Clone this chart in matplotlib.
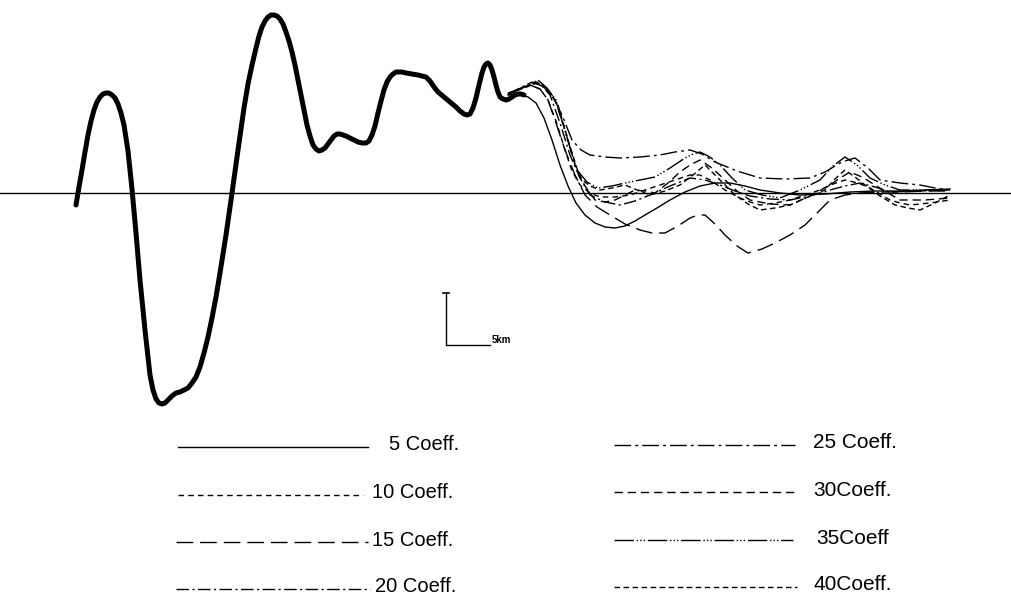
import matplotlib.pyplot as plt

# observed profile (distance along track, anomaly relative to the zero line)
obs_x = [76, 79, 82, 85, 88, 91, 94, 97, 100, 103, 106, 109, 112, 115, 118, 121, 124,
         128, 132, 136, 140, 145, 150, 153, 156, 159, 162, 165, 168, 172, 176, 180, 184,
         188, 192, 196, 200, 204, 208, 212, 216, 220, 226, 232, 238, 244, 248, 252, 256,
         259, 262, 265, 268, 271, 274, 277, 280, 283, 286, 289, 292, 295, 298, 301, 304,
         307, 310, 313, 316, 319, 322, 325, 328, 331, 334, 337, 340, 343, 346, 352, 358,
         362, 366, 369, 372, 375, 378, 381, 384, 387, 390, 393, 396, 399, 402, 406, 412,
         418, 422, 426, 430, 434, 438, 444, 450, 456, 460, 464, 467, 470, 473, 476, 479,
         482, 484, 486, 488, 490, 492, 494, 496, 498, 500, 503, 506, 509, 512, 515, 518,
         521, 524]
obs_y = [-12, 6, 23, 41, 58, 72, 83, 91, 96, 99, 100, 100, 98, 95, 89, 80, 68,
         42, 4, -40, -87, -137, -182, -197, -206, -210, -211, -210, -207, -203, -200, -199, -197,
         -195, -190, -184, -174, -160, -144, -125, -104, -80, -42, 0, 43, 85, 109, 128, 145,
         157, 166, 172, 176, 178, 178, 177, 174, 169, 161, 152, 141, 128, 113, 98, 83,
         68, 57, 48, 44, 42, 43, 45, 49, 53, 57, 59, 59, 58, 57, 54, 51,
         50, 50, 52, 58, 67, 80, 92, 103, 111, 116, 119, 121, 121, 121, 120, 119,
         118, 117, 116, 112, 106, 101, 96, 91, 86, 82, 79, 78, 79, 85, 95, 108,
         120, 126, 129, 130, 128, 123, 116, 108, 101, 96, 94, 93, 94, 96, 98, 99,
         99, 98]

# reconstructions with increasing number of coefficients
c5_x = [508, 518, 528, 536, 544, 552, 560, 568, 576, 585, 595, 605, 615, 625, 635, 645, 657, 670, 685, 700, 715, 730, 745, 760, 780, 800, 825, 850, 875, 900, 925, 950]
c5_y = [98, 99, 96, 90, 75, 53, 28, 7, -10, -22, -30, -34, -35, -33, -28, -22, -15, -7, 1, 7, 10, 10, 7, 3, 0, -2, -1, 1, 2, 2, 3, 4]

c10_x = [508, 520, 530, 540, 548, 556, 565, 572, 580, 590, 600, 615, 630, 645, 660, 675, 690, 700, 710, 725, 740, 750, 760, 775, 790, 805, 820, 833, 845, 858, 870, 880, 890, 900, 910, 930, 950]
c10_y = [100, 104, 108, 104, 93, 72, 43, 22, 8, 0, -4, -4, -2, 3, 8, 13, 18, 18, 13, 3, -5, -9, -12, -10, -7, -2, 3, 9, 13, 10, 5, -1, -7, -10, -12, -10, -7]

c15_x = [508, 520, 530, 540, 548, 556, 565, 575, 585, 597, 610, 625, 640, 652, 665, 678, 690, 698, 705, 715, 725, 737, 748, 762, 775, 790, 805, 818, 830, 845, 860, 880, 900, 925, 950]
c15_y = [98, 104, 108, 104, 93, 70, 43, 18, -2, -14, -22, -31, -37, -40, -40, -33, -25, -22, -22, -31, -42, -53, -60, -56, -50, -42, -32, -19, -7, -2, 0, 1, 1, 2, 2]

c20_x = [508, 520, 532, 542, 550, 560, 570, 580, 590, 605, 620, 635, 650, 670, 690, 705, 720, 735, 750, 770, 790, 810, 830, 845, 860, 875, 890, 920, 950]
c20_y = [99, 105, 111, 107, 98, 70, 38, 15, -2, -9, -12, -8, -2, 7, 15, 13, 8, 2, -3, -6, -7, -3, 3, 7, 10, 6, 1, 2, 3]

c25_x = [508, 522, 535, 544, 552, 562, 572, 581, 590, 605, 620, 640, 660, 675, 690, 702, 715, 737, 760, 785, 810, 825, 840, 848, 855, 868, 880, 900, 920, 935, 950]
c25_y = [99, 105, 110, 106, 98, 78, 53, 43, 38, 36, 35, 36, 38, 41, 43, 39, 31, 22, 15, 14, 15, 21, 30, 33, 35, 25, 13, 10, 8, 5, 3]

c30_x = [508, 522, 537, 546, 555, 565, 575, 585, 595, 605, 615, 625, 635, 645, 655, 668, 680, 690, 700, 712, 725, 737, 750, 770, 790, 810, 830, 840, 850, 862, 875, 888, 900, 925, 950]
c30_y = [99, 105, 111, 104, 93, 63, 28, 7, -7, -9, -7, -2, 3, 2, 0, 10, 21, 28, 33, 25, 13, 2, -7, -11, -12, -3, 8, 15, 21, 16, 8, 0, -7, -7, -5]

c35_x = [508, 523, 538, 547, 556, 566, 577, 587, 598, 612, 625, 640, 655, 670, 685, 693, 700, 710, 720, 732, 745, 762, 780, 800, 820, 833, 845, 857, 870, 885, 900, 925, 950]
c35_y = [99, 106, 113, 105, 93, 58, 23, 11, 5, 7, 10, 13, 16, 25, 35, 39, 41, 36, 28, 15, 3, -2, -5, 3, 13, 27, 36, 28, 15, 8, 3, 3, 3]

c40_x = [508, 524, 540, 549, 558, 569, 580, 590, 600, 612, 625, 637, 650, 665, 680, 693, 705, 720, 735, 748, 760, 775, 790, 808, 825, 835, 845, 855, 865, 880, 895, 908, 920, 935, 950]
c40_y = [99, 105, 111, 101, 88, 50, 15, 7, 3, 5, 8, 3, -2, 2, 8, 18, 28, 13, -2, -11, -17, -15, -12, -4, 3, 14, 23, 16, 8, -3, -12, -15, -17, -10, -2]

labels = ["5 Coeff.", "10 Coeff.", "15 Coeff.", "20 Coeff.",
          "25 Coeff.", "30Coeff.", "35Coeff", "40Coeff."]

styles = [
    "-",
    (0, (4, 3)),
    (0, (12, 5)),
    (0, (9, 2.5, 1.5, 2.5)),
    (0, (12, 3, 2, 3)),
    (0, (6, 3.5)),
    (0, (14, 2, 1, 1.5, 1, 1.5, 1, 2)),
    (0, (4, 2.5)),
]

curves = [(c5_x, c5_y), (c10_x, c10_y), (c15_x, c15_y), (c20_x, c20_y),
          (c25_x, c25_y), (c30_x, c30_y), (c35_x, c35_y), (c40_x, c40_y)]

fig = plt.figure(figsize=(10.11, 5.98), dpi=100)
ax = fig.add_axes([0, 0, 1, 1])
ax.set_xlim(0, 1011)
ax.set_ylim(-405, 193)
ax.axis("off")

# zero line
ax.axhline(0, color="black", lw=1.0)

for (cx, cy), ls in zip(curves, styles):
    ax.plot(cx, cy, color="black", lw=1.0, ls=ls, solid_joinstyle="round")

ax.plot(obs_x, obs_y, color="black", lw=3.6, solid_joinstyle="round", solid_capstyle="round")

# scale bar
ax.plot([446, 446, 490], [-100, -152, -152], color="black", lw=1.0)
ax.plot([443, 449], [-100, -100], color="black", lw=1.2)
ax.text(492, -147, "5km", fontsize=7, fontweight="bold", family="Liberation Sans",
        ha="left", va="center")

# legend drawn as a table of line samples
rows_left = [-252, -300, -347, -394]
rows_right = [-250, -297, -345, -392]
text_x = [389, 372, 372, 375, 813, 813, 816, 813]
line_x = [(178, 368), (178, 363), (176, 368), (176, 370),
          (614, 795), (614, 797), (614, 793), (614, 797)]
row_y = rows_left + rows_right
sizes = [14.5] * 4 + [15] * 4

for i, lab in enumerate(labels):
    x0, x1 = line_x[i]
    ax.plot([x0, x1], [row_y[i] - 2, row_y[i] - 2], color="black", lw=1.0, ls=styles[i])
    ax.text(text_x[i], row_y[i], lab, fontsize=sizes[i], family="Liberation Sans",
            ha="left", va="center")

fig.savefig("out.png", dpi=100)
